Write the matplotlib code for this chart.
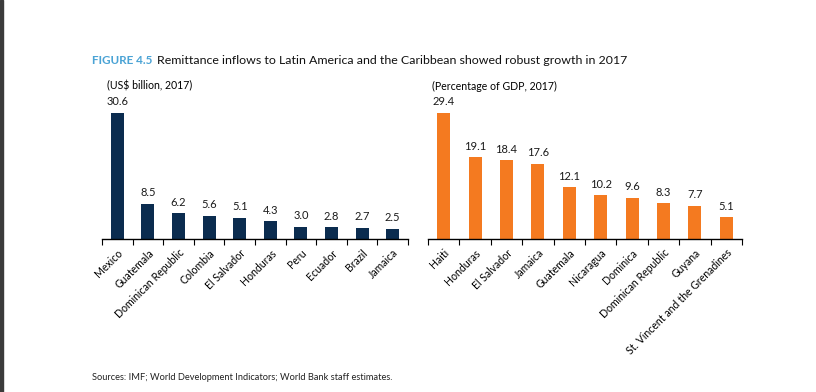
import matplotlib
matplotlib.use("Agg")
import matplotlib.pyplot as plt
from matplotlib.patches import Rectangle
import numpy as np

plt.rcParams['font.family'] = ['Lato', 'DejaVu Sans']

left_countries = ["Mexico", "Guatemala", "Dominican Republic", "Colombia", "El Salvador",
                  "Honduras", "Peru", "Ecuador", "Brazil", "Jamaica"]
left_values = [30.6, 8.5, 6.2, 5.6, 5.1, 4.3, 3.0, 2.8, 2.7, 2.5]

right_countries = ["Haiti", "Honduras", "El Salvador", "Jamaica", "Guatemala", "Nicaragua",
                   "Dominica", "Dominican Republic", "Guyana", "St. Vincent and the Grenadines"]
right_values = [29.4, 19.1, 18.4, 17.6, 12.1, 10.2, 9.6, 8.3, 7.7, 5.1]

navy = "#0B2C4F"
orange = "#F47A20"

W, H = 816, 392
fig = plt.figure(figsize=(W / 100, H / 100), dpi=100)

# left dark border strip
fig.patches.append(Rectangle((0, 0), 2.5 / W, 1, transform=fig.transFigure,
                             color="#3b3b3b", zorder=0))


def panel(rect, cats, vals, color):
    ax = fig.add_axes(rect)
    x = np.arange(len(cats))
    ax.bar(x, vals, width=0.42, color=color, zorder=2)
    ax.set_xlim(-0.5, len(cats) - 0.5)
    ax.set_ylim(0, max(vals))
    for s in ["top", "right", "left"]:
        ax.spines[s].set_visible(False)
    ax.spines["bottom"].set_linewidth(1.0)
    ax.set_yticks([])
    ax.set_xticks(np.arange(len(cats) + 1) - 0.5)
    ax.set_xticklabels([])
    ax.tick_params(axis="x", length=4, width=0.8, direction="out")
    ax.set_xticks(x, minor=True)
    ax.set_xticklabels(cats, minor=True, rotation=45, ha="right", va="top",
                       rotation_mode="anchor", fontsize=7.6)
    ax.tick_params(axis="x", which="minor", length=0, pad=6)
    for xi, v in zip(x, vals):
        ax.annotate(f"{v:.1f}", (xi, v), xytext=(0, 4), textcoords="offset points",
                    ha="center", va="bottom", fontsize=8, color="#1a1a1a")
    ax.patch.set_alpha(0)
    return ax


bottom = (H - 239) / H
height = 126 / H
panel([102 / W, bottom, 306 / W, height], left_countries, left_values, navy)
panel([428 / W, bottom, 314 / W, height], right_countries, right_values, orange)

fig.text(92 / W, 1 - 61 / H, "FIGURE 4.5", color="#4AA3D5", fontsize=8.4, fontweight="bold",
         va="center", ha="left")
fig.text(157 / W, 1 - 61 / H,
         "Remittance inflows to Latin America and the Caribbean showed robust growth in 2017",
         color="#111111", fontsize=8.9, va="center", ha="left")
fig.text(107 / W, 1 - 86 / H, "(US$ billion, 2017)", fontsize=7.6, va="center", ha="left")
fig.text(432 / W, 1 - 86 / H, "(Percentage of GDP, 2017)", fontsize=7.6, va="center", ha="left")
fig.text(92 / W, 1 - 378 / H,
         "Sources: IMF; World Development Indicators; World Bank staff estimates.",
         fontsize=6.7, va="center", ha="left", color="#222222")

fig.savefig("out.png", dpi=100)
